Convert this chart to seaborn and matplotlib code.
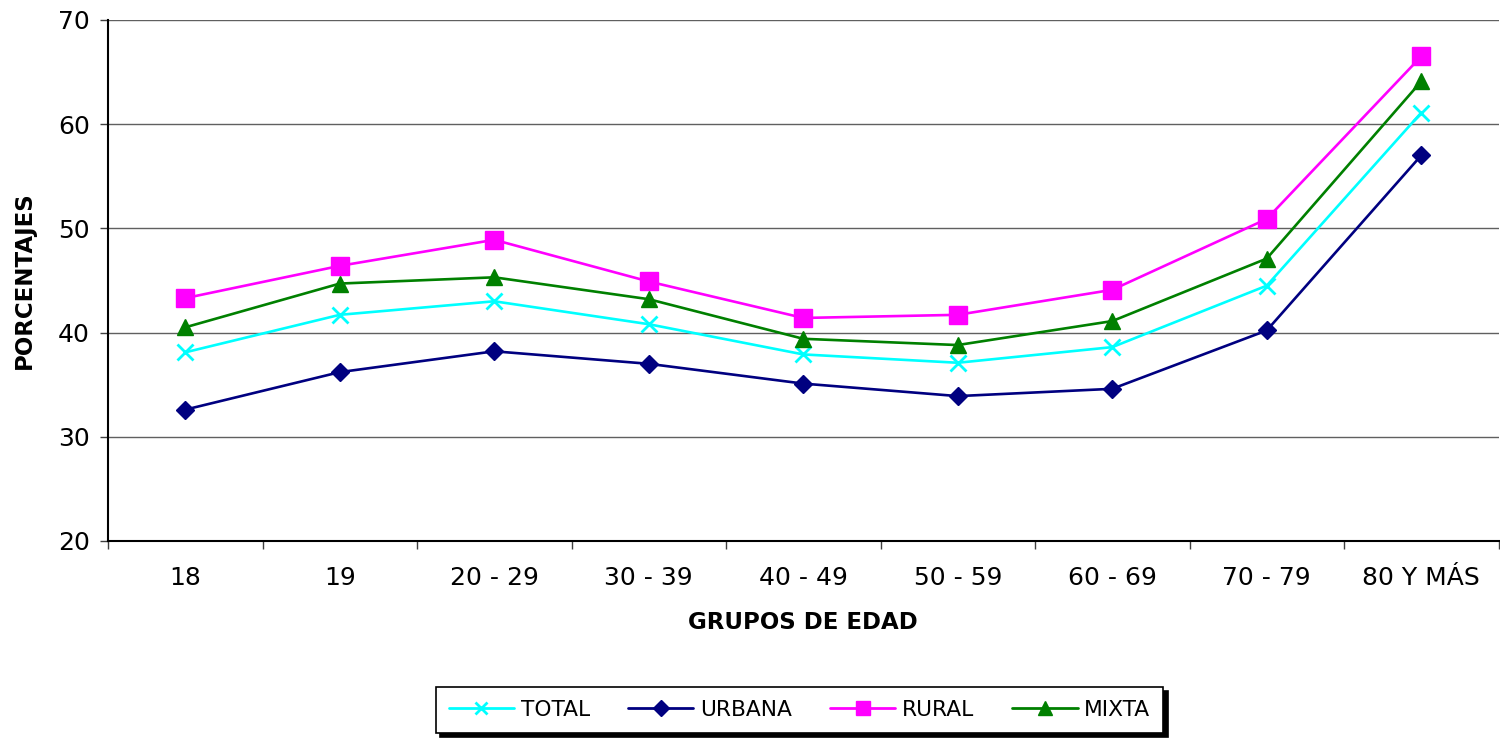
import pandas as pd
import matplotlib.pyplot as plt
import seaborn as sns

grupos = ['18', '19', '20 - 29', '30 - 39', '40 - 49', '50 - 59', '60 - 69', '70 - 79', '80 Y MÁS']
total = [38.1, 41.7, 43.0, 40.8, 37.9, 37.1, 38.6, 44.5, 61.1]
urbana = [32.6, 36.2, 38.2, 37.0, 35.1, 33.9, 34.6, 40.2, 57.0]
rural = [43.3, 46.4, 48.9, 44.9, 41.4, 41.7, 44.1, 50.9, 66.5]
mixta = [40.5, 44.7, 45.3, 43.2, 39.4, 38.8, 41.1, 47.1, 64.1]
series = ['TOTAL', 'URBANA', 'RURAL', 'MIXTA']

df = pd.DataFrame({
    'grupo': grupos * 4,
    'valor': total + urbana + rural + mixta,
    'serie': [s for s in series for _ in grupos],
})

colors = {'TOTAL': '#00FFFF', 'URBANA': '#000080', 'RURAL': '#FF00FF', 'MIXTA': '#008000'}
markers = {'TOTAL': 'x', 'URBANA': 'D', 'RURAL': 's', 'MIXTA': '^'}
sizes = {'TOTAL': 12, 'URBANA': 9, 'RURAL': 13, 'MIXTA': 12}
leg_sizes = {'TOTAL': 9, 'URBANA': 8, 'RURAL': 9.5, 'MIXTA': 10}

sns.set_theme(style='white')
plt.rcParams['font.family'] = ['DejaVu Sans']
plt.rcParams.update({'text.color': 'black', 'axes.labelcolor': 'black',
                     'xtick.color': 'black', 'ytick.color': 'black'})

fig = plt.figure(figsize=(15, 7.38), dpi=100)
ax = fig.add_axes([0.072, 0.267, 0.927, 0.706])

for s in series:
    sns.lineplot(data=df[df['serie'] == s], x='grupo', y='valor', color=colors[s],
                 marker=markers[s], markersize=sizes[s], markeredgecolor=colors[s],
                 markerfacecolor=colors[s], markeredgewidth=2 if s == 'TOTAL' else 1,
                 linewidth=1.9, sort=False, ax=ax, label=s, legend=False)

ax.set_ylim(20, 70)
ax.set_xlim(-0.5, 8.5)
ax.set_yticks(range(20, 71, 10))
ax.set_xticks(range(9))
ax.set_xticklabels(grupos)
ax.set_xticks([i - 0.5 for i in range(10)], minor=True)
ax.tick_params(axis='x', which='major', bottom=True, length=0, pad=18, labelsize=18)
ax.tick_params(axis='x', which='minor', bottom=True, length=6, width=1, color='#404040', direction='out')
ax.tick_params(axis='y', left=True, length=6, width=1, color='#404040', direction='out', pad=7, labelsize=18)
ax.yaxis.grid(True, color='#606060', linewidth=1)
ax.set_axisbelow(True)

for side in ['top', 'right']:
    ax.spines[side].set_visible(False)
for side in ['left', 'bottom']:
    ax.spines[side].set_color('black')
    ax.spines[side].set_linewidth(1.5)

ax.set_xlabel('GRUPOS DE EDAD', fontsize=16.5, fontweight='bold', labelpad=15)
ax.set_ylabel('PORCENTAJES', fontsize=16.5, fontweight='bold', labelpad=16)

handles = [plt.Line2D([], [], color=colors[s], marker=markers[s], linewidth=2,
                      markersize=leg_sizes[s], markeredgewidth=2 if s == 'TOTAL' else 1,
                      markerfacecolor=colors[s], markeredgecolor=colors[s]) for s in series]
leg = fig.legend(handles, series, loc='center', bbox_to_anchor=(0.533, 0.0385), ncol=4,
                 fontsize=15.7, frameon=True, fancybox=False, edgecolor='black',
                 shadow={'ox': 3, 'oy': -3, 'color': 'black', 'alpha': 1},
                 handlelength=3.0, handletextpad=0.3, columnspacing=1.75, borderpad=0.6)
leg.get_frame().set_linewidth(1.2)

plt.savefig('out.png', dpi=100)
